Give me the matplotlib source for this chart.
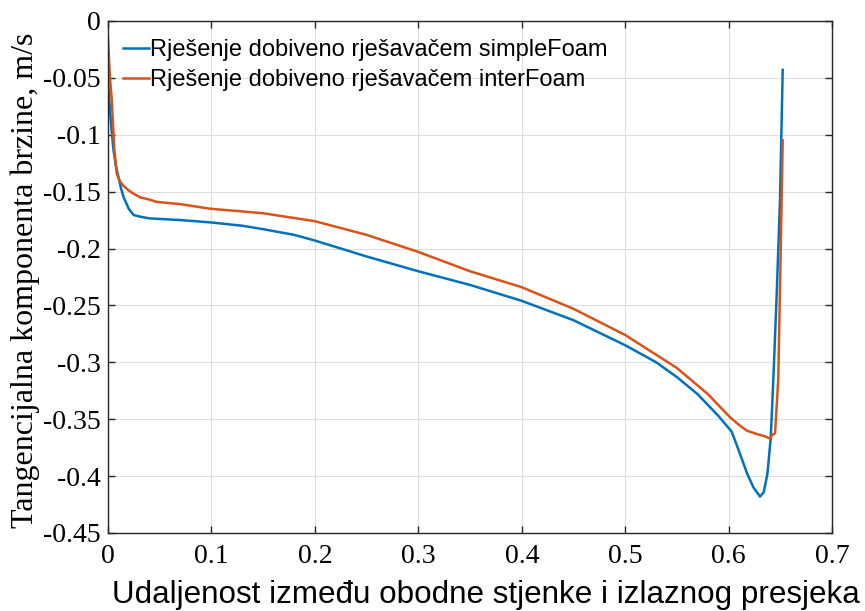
import numpy as np
import matplotlib
matplotlib.use('Agg')
import matplotlib.pyplot as plt

# simpleFoam
x_simple = [0, 0.002, 0.0036, 0.0052, 0.0075, 0.01, 0.0125, 0.0151, 0.02, 0.0248, 0.031,
            0.04, 0.05, 0.07, 0.0986, 0.13, 0.15, 0.18, 0.2, 0.25, 0.3, 0.35, 0.4, 0.45,
            0.5, 0.53, 0.55, 0.57, 0.59, 0.603, 0.61, 0.618, 0.624, 0.6304, 0.634, 0.6375,
            0.6407, 0.6432, 0.6465, 0.6497, 0.6523]
y_simple = [-0.054, -0.080, -0.098, -0.113, -0.127, -0.137, -0.147, -0.155, -0.165, -0.1706, -0.172,
            -0.1735, -0.174, -0.175, -0.177, -0.180, -0.183, -0.188, -0.193, -0.207, -0.220, -0.232, -0.246, -0.263,
            -0.285, -0.300, -0.313, -0.328, -0.347, -0.361, -0.378, -0.398, -0.410, -0.418, -0.414, -0.398,
            -0.367, -0.316, -0.240, -0.157, -0.043]

# interFoam
x_inter = [0, 0.001, 0.002, 0.0036, 0.0045, 0.006, 0.0084, 0.0115, 0.0151, 0.02, 0.025, 0.031,
           0.04, 0.047, 0.07, 0.0986, 0.15, 0.2, 0.25, 0.3, 0.35, 0.4, 0.45, 0.5, 0.55,
           0.58, 0.601, 0.61, 0.6175, 0.627, 0.635, 0.640, 0.642, 0.6449, 0.648, 0.650, 0.6523]
y_inter = [-0.016, -0.035, -0.052, -0.069, -0.085, -0.112, -0.134, -0.141, -0.145, -0.149, -0.152, -0.155,
           -0.157, -0.159, -0.161, -0.165, -0.169, -0.176, -0.188, -0.203, -0.220, -0.234, -0.253, -0.276, -0.305,
           -0.328, -0.348, -0.355, -0.360, -0.363, -0.365, -0.367, -0.364, -0.3625, -0.315, -0.22, -0.105]

labels = ['Rješenje dobiveno rješavačem simpleFoam', 'Rješenje dobiveno rješavačem interFoam']
xtick_vals = [0, 0.1, 0.2, 0.3, 0.4, 0.5, 0.6, 0.7]
xtick_txt = ['0', '0.1', '0.2', '0.3', '0.4', '0.5', '0.6', '0.7']
ytick_vals = [-0.45, -0.4, -0.35, -0.3, -0.25, -0.2, -0.15, -0.1, -0.05, 0]
ytick_txt = ['-0.45', '-0.4', '-0.35', '-0.3', '-0.25', '-0.2', '-0.15', '-0.1', '-0.05', '0']

fig = plt.figure(figsize=(8.65, 6.11), dpi=100)
ax = fig.add_axes([0.1249, 0.1277, 0.8370, 0.8380])

ax.plot(x_simple, y_simple, color='#0072BD', lw=1.8, label=labels[0])
ax.plot(x_inter, y_inter, color='#D95319', lw=1.8, label=labels[1])

ax.set_xlim(0, 0.7)
ax.set_ylim(-0.45, 0)
ax.set_xticks(xtick_vals)
ax.set_yticks(ytick_vals)
ax.set_xticklabels(xtick_txt)
ax.set_yticklabels(ytick_txt)
ax.grid(True, color='#dfdfdf', lw=0.8)
ax.set_axisbelow(True)
ax.tick_params(direction='in', top=True, right=True, length=5, width=1, color='#262626')
ax.tick_params(axis='x', pad=8)
ax.tick_params(axis='y', pad=5)
for lab in ax.get_xticklabels() + ax.get_yticklabels():
    lab.set_fontfamily('Liberation Serif')
    lab.set_fontsize(20)
for s in ax.spines.values():
    s.set_color('#262626')
    s.set_linewidth(1)

ax.set_xlabel('Udaljenost između obodne stjenke i izlaznog presjeka',
              family='Liberation Sans', fontsize=22.6)
ax.xaxis.label.set_va('baseline')
ax.xaxis.set_label_coords(0.5214, -0.1367)
ax.set_ylabel('Tangencijalna komponenta brzine, m/s',
              family='Liberation Serif', fontsize=23)
ax.yaxis.set_label_coords(-0.094, 0.494)

ax.legend(loc='upper left', bbox_to_anchor=(0.0207, 0.9648), frameon=False,
          prop={'family': 'Liberation Sans', 'size': 17},
          handlelength=1.1, handletextpad=0.05, borderaxespad=0, borderpad=0,
          labelspacing=0.35)

fig.savefig('out.png', dpi=100)
